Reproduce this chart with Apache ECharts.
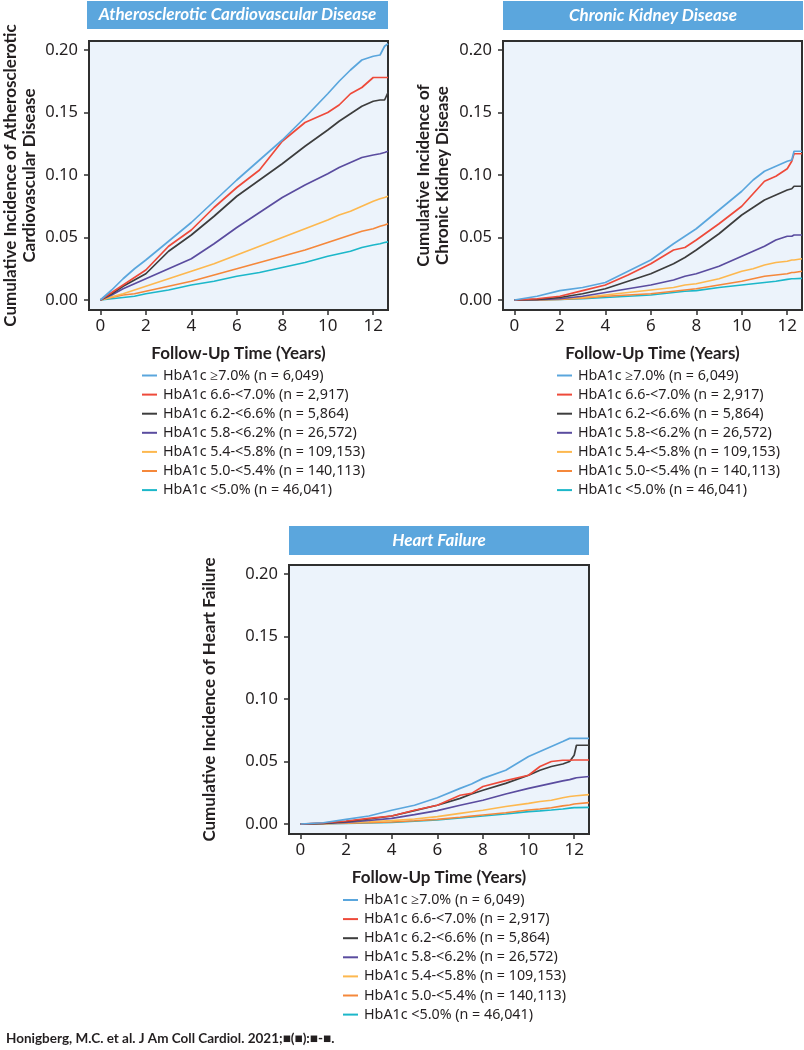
<!DOCTYPE html>
<html>
<head>
<meta charset="utf-8">
<script src="https://cdn.jsdelivr.net/npm/echarts@6/dist/echarts.min.js"></script>
<style>
html,body{margin:0;padding:0;background:#fff;}
#c{width:804px;height:1050px;}
</style>
</head>
<body>
<div id="c"></div>
<script>
// ---------- data ----------
const groupLabels = [
  'HbA1c ≥7.0% (n = 6,049)',
  'HbA1c 6.6-<7.0% (n = 2,917)',
  'HbA1c 6.2-<6.6% (n = 5,864)',
  'HbA1c 5.8-<6.2% (n = 26,572)',
  'HbA1c 5.4-<5.8% (n = 109,153)',
  'HbA1c 5.0-<5.4% (n = 140,113)',
  'HbA1c <5.0% (n = 46,041)'
];
const groupColors = ['#5aa6dd', '#ee4a3a', '#3d3d3d', '#5a4c9f', '#fdb84f', '#f5883b', '#1cb7c9'];

const panelTitles = ['Atherosclerotic Cardiovascular Disease', 'Chronic Kidney Disease', 'Heart Failure'];
const yAxisTitles = [
  'Cumulative Incidence of Atherosclerotic\nCardiovascular Disease',
  'Cumulative Incidence of\nChronic Kidney Disease',
  'Cumulative Incidence of Heart Failure'
];
const xAxisTitle = 'Follow-Up Time (Years)';
const xTicks = [0, 2, 4, 6, 8, 10, 12];
const yTicks = [0, 0.05, 0.10, 0.15, 0.20];
const citation = 'Honigberg, M.C. et al. J Am Coll Cardiol. 2021;■(■):■-■.';

// ASCVD
const ascvdYears = [0, 0.5, 1, 1.5, 2, 3, 4, 5, 6, 7, 8, 9, 10, 10.5, 11, 11.5, 12, 12.3, 12.5, 12.65];
const ascvd70   = [0, 0.008, 0.017, 0.025, 0.032, 0.047, 0.062, 0.079, 0.096, 0.112, 0.128, 0.146, 0.165, 0.175, 0.184, 0.192, 0.195, 0.196, 0.203, 0.205];
const ascvd66   = [0, 0.006, 0.012, 0.018, 0.024, 0.043, 0.056, 0.074, 0.090, 0.104, 0.127, 0.142, 0.150, 0.156, 0.165, 0.170, 0.178, 0.178, 0.178, 0.178];
const ascvd62   = [0, 0.005, 0.011, 0.016, 0.021, 0.039, 0.052, 0.067, 0.083, 0.096, 0.109, 0.123, 0.136, 0.143, 0.149, 0.155, 0.159, 0.160, 0.160, 0.166];
const ascvd58   = [0, 0.004, 0.009, 0.013, 0.017, 0.025, 0.033, 0.045, 0.058, 0.070, 0.082, 0.092, 0.101, 0.106, 0.110, 0.114, 0.116, 0.117, 0.118, 0.119];
const ascvd54   = [0, 0.0025, 0.005, 0.008, 0.011, 0.017, 0.023, 0.029, 0.036, 0.043, 0.050, 0.057, 0.064, 0.068, 0.071, 0.075, 0.079, 0.081, 0.082, 0.083];
const ascvd50   = [0, 0.002, 0.004, 0.005, 0.007, 0.011, 0.015, 0.020, 0.025, 0.030, 0.035, 0.040, 0.046, 0.049, 0.052, 0.055, 0.057, 0.059, 0.060, 0.061];
const ascvdLt50 = [0, 0.001, 0.002, 0.003, 0.005, 0.008, 0.012, 0.015, 0.019, 0.022, 0.026, 0.030, 0.035, 0.037, 0.039, 0.042, 0.044, 0.045, 0.046, 0.0465];

// CKD
const ckdYears = [0, 1, 2, 3, 4, 5, 6, 7, 7.5, 8, 9, 10, 10.5, 11, 11.5, 12, 12.2, 12.3, 12.65];
const ckd70   = [0, 0.003, 0.0075, 0.010, 0.014, 0.023, 0.032, 0.045, 0.051, 0.057, 0.072, 0.087, 0.096, 0.103, 0.107, 0.111, 0.112, 0.119, 0.119];
const ckd66   = [0, 0.001, 0.003, 0.0075, 0.012, 0.020, 0.029, 0.040, 0.042, 0.048, 0.061, 0.075, 0.085, 0.095, 0.099, 0.105, 0.111, 0.117, 0.117];
const ckd62   = [0, 0.0005, 0.002, 0.005, 0.009, 0.015, 0.021, 0.029, 0.034, 0.040, 0.053, 0.068, 0.074, 0.080, 0.084, 0.088, 0.089, 0.091, 0.091];
const ckd58   = [0, 0.0003, 0.001, 0.003, 0.006, 0.009, 0.012, 0.016, 0.019, 0.021, 0.027, 0.035, 0.039, 0.043, 0.048, 0.051, 0.051, 0.052, 0.052];
const ckd54   = [0, 0.0002, 0.001, 0.002, 0.004, 0.006, 0.008, 0.010, 0.012, 0.013, 0.017, 0.023, 0.025, 0.028, 0.030, 0.031, 0.032, 0.032, 0.033];
const ckd50   = [0, 0.0001, 0.0005, 0.0015, 0.003, 0.004, 0.005, 0.007, 0.008, 0.009, 0.012, 0.015, 0.017, 0.019, 0.020, 0.021, 0.022, 0.022, 0.023];
const ckdLt50 = [0, 0.0001, 0.0005, 0.001, 0.002, 0.003, 0.004, 0.006, 0.007, 0.0075, 0.010, 0.012, 0.013, 0.014, 0.015, 0.0165, 0.017, 0.017, 0.0173];

// Heart failure
const hfYears = [0, 1, 2, 3, 4, 5, 6, 7, 7.5, 8, 9, 10, 10.5, 11, 11.5, 11.8, 12, 12.1, 12.65];
const hf70   = [0, 0.001, 0.0037, 0.0064, 0.011, 0.015, 0.021, 0.0285, 0.032, 0.0365, 0.043, 0.054, 0.058, 0.062, 0.066, 0.0685, 0.0685, 0.0685, 0.0685];
const hf66   = [0, 0.0008, 0.0024, 0.0045, 0.0064, 0.011, 0.015, 0.023, 0.0245, 0.030, 0.0347, 0.039, 0.046, 0.050, 0.051, 0.051, 0.0512, 0.0512, 0.0512];
const hf62   = [0, 0.0005, 0.002, 0.004, 0.0064, 0.0107, 0.015, 0.0205, 0.024, 0.027, 0.0325, 0.039, 0.043, 0.046, 0.048, 0.050, 0.055, 0.063, 0.063];
const hf58   = [0, 0.0004, 0.0013, 0.0028, 0.0045, 0.0075, 0.0107, 0.015, 0.017, 0.019, 0.024, 0.0285, 0.0305, 0.0325, 0.0345, 0.0355, 0.0365, 0.037, 0.038];
const hf54   = [0, 0.0003, 0.001, 0.0018, 0.0027, 0.004, 0.0059, 0.0085, 0.0098, 0.011, 0.014, 0.0165, 0.018, 0.019, 0.021, 0.022, 0.0224, 0.0226, 0.0235];
const hf50   = [0, 0.0002, 0.0006, 0.001, 0.0016, 0.0026, 0.0037, 0.0054, 0.0063, 0.0072, 0.009, 0.0112, 0.012, 0.013, 0.0145, 0.0152, 0.016, 0.0162, 0.0171];
const hfLt50 = [0, 0.0002, 0.0005, 0.0009, 0.0013, 0.0022, 0.0032, 0.0048, 0.0056, 0.0064, 0.008, 0.0099, 0.0105, 0.0112, 0.012, 0.0127, 0.0131, 0.0131, 0.0133];

const panels = [
  { years: ascvdYears, series: [ascvd70, ascvd66, ascvd62, ascvd58, ascvd54, ascvd50, ascvdLt50] },
  { years: ckdYears,   series: [ckd70, ckd66, ckd62, ckd58, ckd54, ckd50, ckdLt50] },
  { years: hfYears,    series: [hf70, hf66, hf62, hf58, hf54, hf50, hfLt50] }
];

// ---------- layout ----------
const gridBoxes = [
  { left: 87,  top: 41,  width: 301, height: 269 },
  { left: 503, top: 41,  width: 299, height: 269 },
  { left: 289, top: 565, width: 300, height: 269 }
];
const titleBoxes = [
  { x: 87,  y: 1,   w: 301, h: 28 },
  { x: 503, y: 1,   w: 300, h: 29 },
  { x: 289, y: 526, w: 300, h: 29 }
];
const legendPos = [
  { left: 142, top: 367.5 },
  { left: 557, top: 367.5 },
  { left: 343, top: 892 }
];
const yNameGaps = [50, 51, 70];
const BOLD = 'Lato';
const REG = 'Noto Sans';
const INK = '#231f20';
const FRAME = '#2f2f2f';

const option = {
  animation: false,
  backgroundColor: '#ffffff',
  grid: gridBoxes.map(g => ({
    left: g.left, top: g.top, width: g.width, height: g.height,
    show: true, backgroundColor: '#ecf3fb', borderColor: FRAME, borderWidth: 2
  })),
  xAxis: gridBoxes.map((g, i) => ({
    type: 'value', gridIndex: i, min: -0.5, max: 12.65, position: 'bottom',
    name: xAxisTitle, nameLocation: 'middle', nameGap: 35,
    nameTextStyle: { fontFamily: BOLD, fontWeight: 'bold', fontSize: 17, color: INK },
    axisLine: { show: true, onZero: false, lineStyle: { color: FRAME, width: 2 } },
    splitLine: { show: false },
    axisTick: { show: true, inside: false, length: 5, customValues: xTicks, lineStyle: { color: FRAME, width: 1.5 } },
    axisLabel: { customValues: xTicks, margin: 8, fontFamily: REG, fontSize: 17, color: INK }
  })),
  yAxis: gridBoxes.map((g, i) => ({
    type: 'value', gridIndex: i, min: -0.008, max: 0.2072, position: 'left',
    name: yAxisTitles[i], nameLocation: 'middle', nameGap: yNameGaps[i], nameRotate: 90,
    nameTextStyle: { fontFamily: BOLD, fontWeight: 'bold', fontSize: 17, color: INK, lineHeight: 19 },
    axisLine: { show: true, onZero: false, lineStyle: { color: FRAME, width: 2 } },
    splitLine: { show: false },
    axisTick: { show: true, inside: false, length: 5, customValues: yTicks, lineStyle: { color: FRAME, width: 1.5 } },
    axisLabel: { customValues: yTicks, margin: 11, fontFamily: REG, fontSize: 16.5, color: INK,
      formatter: v => v.toFixed(2) }
  })),
  legend: legendPos.map(p => ({
    left: p.left, top: p.top, orient: 'vertical', padding: 0,
    data: groupLabels, icon: 'rect', itemWidth: 15, itemHeight: 2, itemGap: 3.1,
    selectedMode: false,
    textStyle: { fontFamily: REG, fontSize: 14.3, color: INK, lineHeight: 16, padding: [0, 0, 0, 1] }
  })),
  graphic: [
    ...titleBoxes.map((b, i) => ({
      type: 'group', left: b.x, top: b.y,
      children: [
        { type: 'rect', shape: { x: 0, y: 0, width: b.w, height: b.h }, style: { fill: '#5ba6dd' } },
        { type: 'text', x: b.w / 2, y: b.h / 2,
          style: { text: panelTitles[i], fill: '#ffffff', font: 'italic bold 17px Lato',
            align: 'center', verticalAlign: 'middle' } }
      ]
    })),
    { type: 'text', left: 6, top: 1032,
      style: { text: citation, fill: INK, font: 'bold 13.5px Lato' } }
  ],
  series: []
};

panels.forEach((p, pi) => {
  p.series.forEach((vals, gi) => {
    option.series.push({
      type: 'line', name: groupLabels[gi], xAxisIndex: pi, yAxisIndex: pi,
      data: p.years.map((t, k) => [t, vals[k]]),
      showSymbol: false, symbol: 'none',
      lineStyle: { width: 1.7, color: groupColors[gi] },
      itemStyle: { color: groupColors[gi] },
      z: 10 - gi
    });
  });
});

const chart = echarts.init(document.getElementById('c'), null, { renderer: 'canvas' });
chart.setOption(option);
</script>
</body>
</html>
